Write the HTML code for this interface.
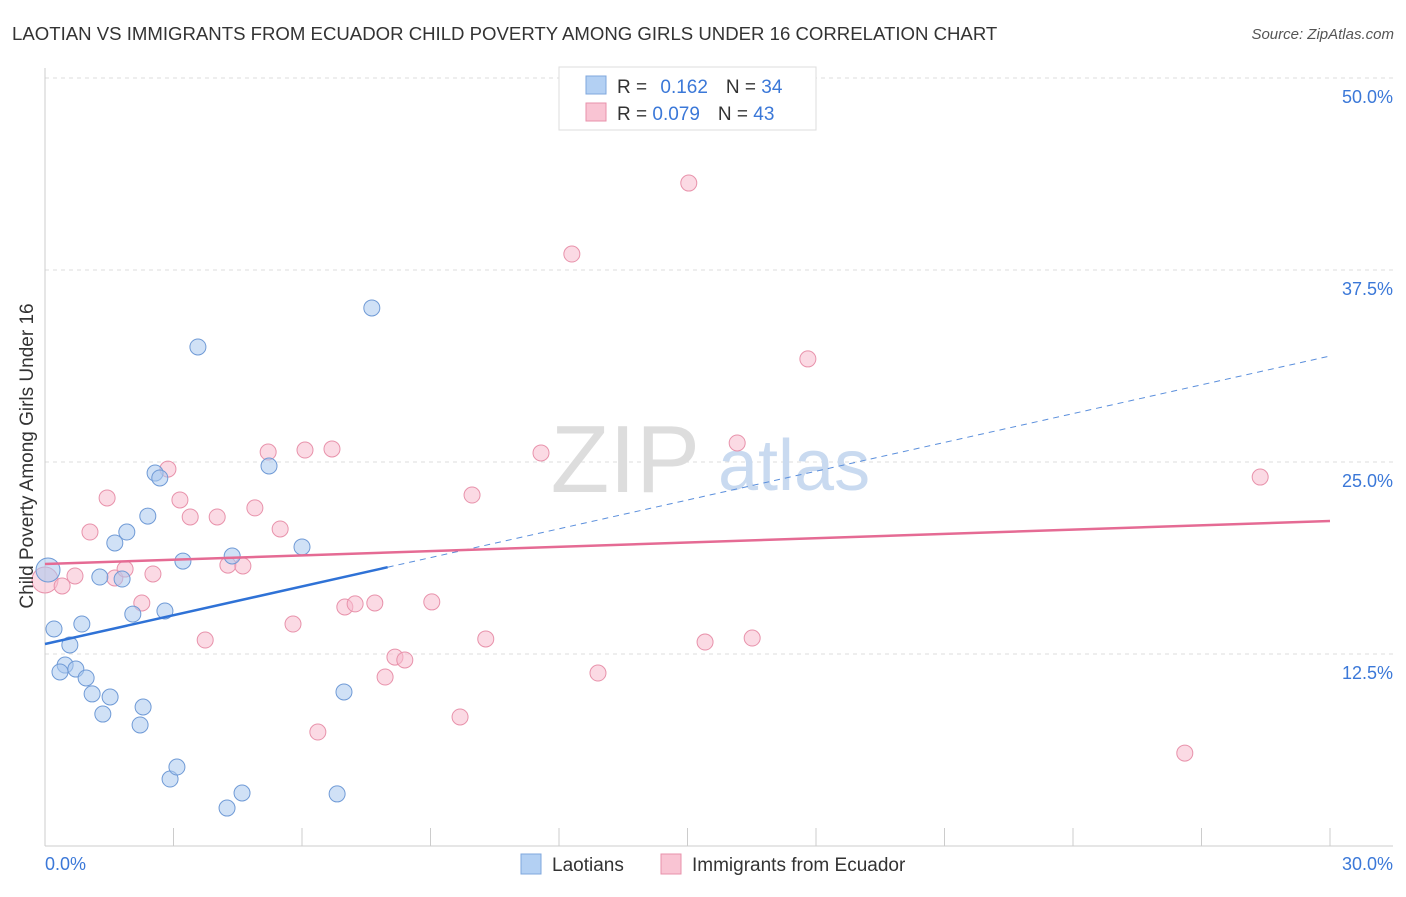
<!DOCTYPE html>
<html><head><meta charset="utf-8"><style>
body{margin:0;background:#fff;font-family:"Liberation Sans",sans-serif;}
svg text{font-family:"Liberation Sans",sans-serif;}
</style></head><body>
<svg width="1406" height="892" viewBox="0 0 1406 892">
<text x="12" y="40" font-size="18.6" fill="#333">LAOTIAN VS IMMIGRANTS FROM ECUADOR CHILD POVERTY AMONG GIRLS UNDER 16 CORRELATION CHART</text>
<text x="1394" y="39" font-size="15" fill="#555" text-anchor="end" font-style="italic">Source: ZipAtlas.com</text>
<g id="grid"></g>
<text x="700" y="492" font-size="96" fill="#ddd" text-anchor="end" font-family="Liberation Serif">ZIP</text>
<text x="718" y="490" font-size="72" fill="#c9daf0">atlas</text>
<g id="marks"></g>
<text transform="translate(33,456) rotate(-90)" font-size="19" fill="#333" text-anchor="middle">Child Poverty Among Girls Under 16</text>
<g>
<rect x="559" y="67" width="257" height="63" fill="#fff" stroke="#ddd"/>
<rect x="586" y="76" width="20" height="18" fill="#b3d0f3" stroke="#7fa7dd"/>
<rect x="586" y="103" width="20" height="18" fill="#f9c4d3" stroke="#e892ab"/>
<text x="617" y="93" font-size="19" fill="#333">R = <tspan fill="#3b78d8" dx="8">0.162</tspan><tspan dx="18" fill="#333">N = </tspan><tspan fill="#3b78d8">34</tspan></text>
<text x="617" y="120" font-size="19" fill="#333">R = <tspan fill="#3b78d8">0.079</tspan><tspan dx="18" fill="#333">N = </tspan><tspan fill="#3b78d8">43</tspan></text>
</g>
<g>
<rect x="521" y="854" width="20" height="20" fill="#b3d0f3" stroke="#7fa7dd"/>
<text x="552" y="871" font-size="19" fill="#333">Laotians</text>
<rect x="661" y="854" width="20" height="20" fill="#f9c4d3" stroke="#e892ab"/>
<text x="692" y="871" font-size="19" fill="#333">Immigrants from Ecuador</text>
</g>
</svg>
<script>
const blueX=[0.07,0.21,0.58,0.47,0.35,0.72,0.86,0.96,1.10,1.28,1.35,1.52,1.63,1.80,1.91,2.05,2.22,2.29,2.40,2.57,2.68,2.80,2.92,3.08,3.22,3.57,4.25,4.37,4.60,5.23,6.00,6.82,6.98,7.63];
const blueY=[17.97,14.13,13.09,11.78,11.33,11.52,14.45,10.94,9.90,17.51,8.59,9.70,19.73,17.38,20.44,15.10,7.88,9.05,21.48,24.28,23.96,15.30,4.36,5.14,18.55,32.49,2.47,18.88,3.45,24.74,19.47,3.39,10.03,35.03];
const pinkX=[0,0.40,0.70,1.05,1.45,1.63,1.87,2.26,2.52,2.87,3.15,3.39,3.74,4.02,4.27,4.62,4.90,5.21,5.49,5.79,6.07,6.37,6.70,7.00,7.24,7.70,7.94,8.17,8.40,9.03,9.69,9.97,10.29,11.58,12.30,12.91,15.03,15.41,16.16,16.51,17.81,26.61,28.37];
const pinkY=[17.32,16.93,17.58,20.44,22.66,17.45,18.03,15.82,17.71,24.54,22.53,21.42,13.41,21.42,18.29,18.23,22.01,25.65,20.64,14.45,25.78,7.42,25.85,15.56,15.76,15.82,11.00,12.30,12.11,15.89,8.40,22.85,13.48,25.59,38.54,11.26,43.16,13.28,26.24,13.54,31.71,6.05,24.02];
const yTicks=[12.5,25.0,37.5,50.0];
const xTickLabels=["0.0%","30.0%"];
const blueTrend=[13.15,31.9];
const blueSolidEnd=8.0;
const pinkTrend=[18.36,21.16];
const NS="http://www.w3.org/2000/svg";
const sx=v=>45+v/30*1285;
const sy=v=>846-v/50*768;
function mk(tag,attrs,parent){const e=document.createElementNS(NS,tag);for(const k in attrs)e.setAttribute(k,attrs[k]);parent.appendChild(e);return e;}
const grid=document.getElementById('grid'),marks=document.getElementById('marks');
yTicks.forEach(t=>{
 const l=mk('line',{x1:45,x2:1393,y1:sy(t),y2:sy(t),stroke:'#ddd','stroke-dasharray':'4,4'},grid);
 
 
 const tx=mk('text',{x:1393,y:sy(t)+25,'font-size':18,fill:'#3b78d8','text-anchor':'end'},grid);
 tx.textContent=t.toFixed(1)+'%';
 
 
});
const ax=mk('line',{x1:45,x2:1393,y1:846,y2:846,stroke:'#ccc'},grid);


const ay=mk('line',{x1:45,x2:45,y1:68,y2:846,stroke:'#ccc'},grid);


for(let i=1;i<=10;i++){
 const t=mk('line',{x1:sx(i*3),x2:sx(i*3),y1:828,y2:846,stroke:'#ccc'},grid);
 
 
}
[[0,'start',45],[30,'end',1393]].forEach((d,i)=>{
 const tx=mk('text',{x:d[2],y:870,'font-size':18,fill:'#3b78d8','text-anchor':d[1]},grid);
 tx.textContent=xTickLabels[i];
 
 
});
function dot(x,y,fill,stroke,r){
 const c=mk('circle',{cx:sx(x),cy:sy(y),r:r,fill:fill,'fill-opacity':0.55,stroke:stroke,'stroke-width':1},marks);
 return c;
}
pinkX.forEach((x,i)=>{
 const c=dot(x,pinkY[i],'#f7bccd','#e892ab',i===0?13:8);
 
 
});
blueX.forEach((x,i)=>{
 const c=dot(x,blueY[i],'#a9c8ef','#6f9ad6',i===0?12:8);
 
 
});
const by=x=>blueTrend[0]+(blueTrend[1]-blueTrend[0])*x/30;
const l1=mk('line',{x1:sx(0),y1:sy(by(0)),x2:sx(blueSolidEnd),y2:sy(by(blueSolidEnd)),stroke:'#2f72d6','stroke-width':2.5},marks);


const l2=mk('line',{x1:sx(blueSolidEnd),y1:sy(by(blueSolidEnd)),x2:sx(30),y2:sy(by(30)),stroke:'#5b8fdc','stroke-width':1,'stroke-dasharray':'6,5'},marks);


const l3=mk('line',{x1:sx(0),y1:sy(pinkTrend[0]),x2:sx(30),y2:sy(pinkTrend[1]),stroke:'#e56b94','stroke-width':2.5},marks);


</script>
</body></html>
